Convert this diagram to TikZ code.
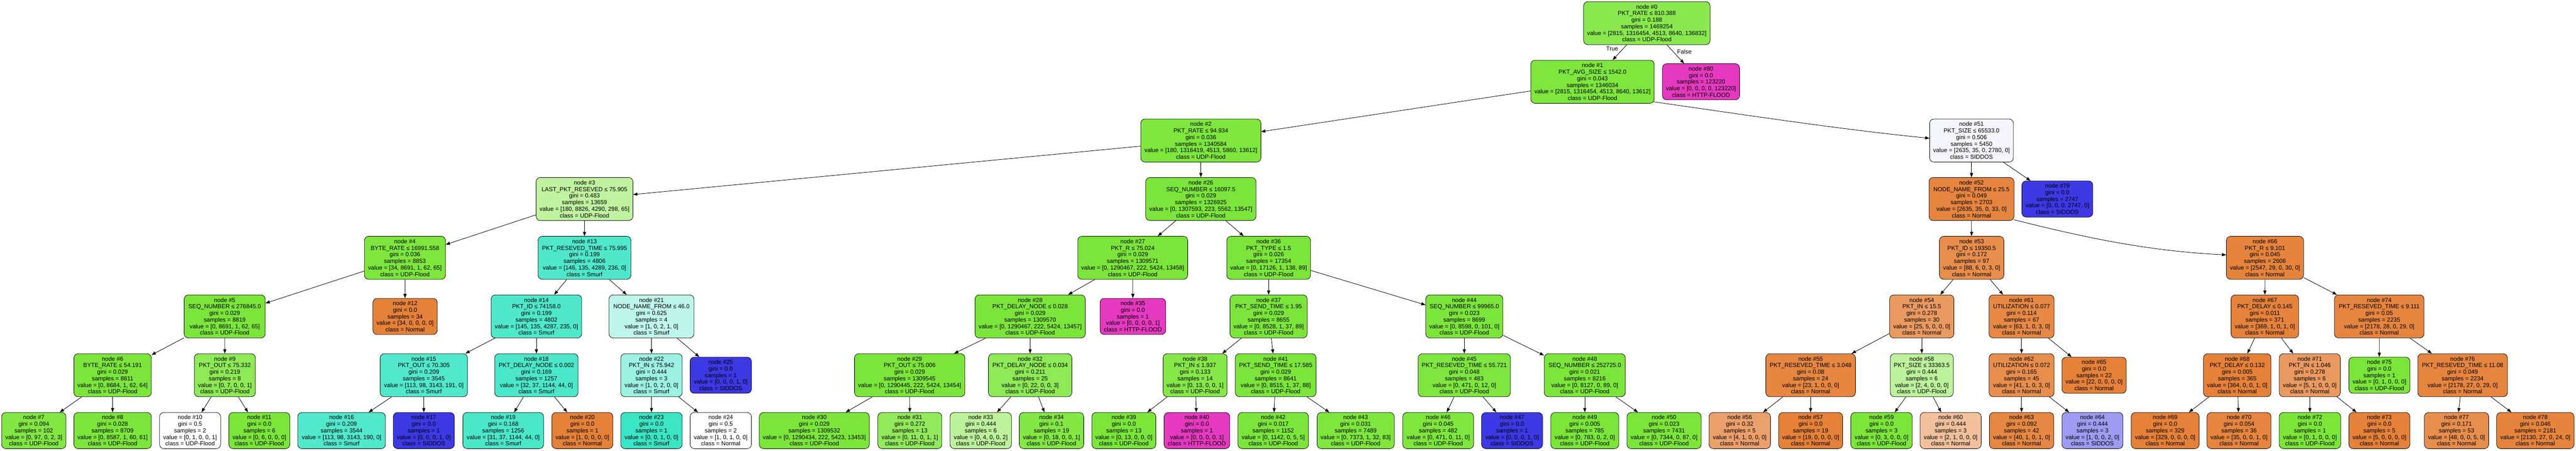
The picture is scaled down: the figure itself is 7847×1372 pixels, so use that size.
\documentclass[tikz,border=0pt]{standalone}
\usepackage{fontspec}
\usetikzlibrary{arrows.meta}
\newfontfamily\dtfam{Liberation Sans}
\newcommand\dtfont{\dtfam\fontsize{18}{20}\selectfont}
\definecolor{cN}{HTML}{E58139}
\definecolor{cU}{HTML}{7BE539}
\definecolor{cS}{HTML}{39E5C5}
\definecolor{cD}{HTML}{3C39E5}
\definecolor{cH}{HTML}{E539C0}
\tikzset{
  tb/.style={draw=black, line width=1.2pt, rounded corners=13pt, inner sep=0pt, align=center, font=\dtfont, minimum height=131pt},
  lf/.style={tb, minimum height=110pt},
  ed/.style={line width=1.3pt, draw=black, -{Triangle[length=13pt,width=9.5pt]}},
  lbl/.style={font=\dtfont, inner sep=0pt}
}
\begin{document}
\begin{tikzpicture}[x=1pt,y=1pt]
\useasboundingbox (0,0) rectangle (7847,-1372);
\fill[white] (0,0) rectangle (7847,-1372);
% rank 0
\node[tb, fill=cU!89!white, minimum width=385pt] (n0) at (5016.5,-70.5) {node \#0\\PKT\_RATE ≤ 810.388\\gini = 0.188\\samples = 1469254\\value = [2815, 1316454, 4513, 8640, 136832]\\class = UDP-Flood};
% rank 1
\node[tb, fill=cU!98!white, minimum width=376pt] (n1) at (4851,-249) {node \#1\\PKT\_AVG\_SIZE ≤ 1542.0\\gini = 0.043\\samples = 1346034\\value = [2815, 1316454, 4513, 8640, 13612]\\class = UDP-Flood};
\node[lf, fill=cH, minimum width=235pt] (n80) at (5181.5,-249) {node \#80\\gini = 0.0\\samples = 123220\\value = [0, 0, 0, 0, 123220]\\class = HTTP-FLOOD};
% rank 2
\node[tb, fill=cU!98!white, minimum width=366pt] (n2) at (3658,-428) {node \#2\\PKT\_RATE ≤ 94.934\\gini = 0.036\\samples = 1340584\\value = [180, 1316419, 4513, 5860, 13612]\\class = UDP-Flood};
\node[tb, fill=cD!5!white, minimum width=255pt] (n51) at (6005.5,-428) {node \#51\\PKT\_SIZE ≤ 65533.0\\gini = 0.506\\samples = 5450\\value = [2635, 35, 0, 2780, 0]\\class = SIDDOS};
% rank 3
\node[tb, fill=cU!48!white, minimum width=295pt] (n3) at (1780.5,-606) {node \#3\\LAST\_PKT\_RESEVED ≤ 75.905\\gini = 0.483\\samples = 13659\\value = [180, 8826, 4290, 298, 65]\\class = UDP-Flood};
\node[tb, fill=cU!99!white, minimum width=336pt] (n26) at (3658,-606) {node \#26\\SEQ\_NUMBER ≤ 16097.5\\gini = 0.029\\samples = 1326925\\value = [0, 1307593, 223, 5562, 13547]\\class = UDP-Flood};
\node[tb, fill=cN!97!white, minimum width=259pt] (n52) at (6005.5,-606) {node \#52\\NODE\_NAME\_FROM ≤ 25.5\\gini = 0.049\\samples = 2703\\value = [2635, 35, 0, 33, 0]\\class = Normal};
\node[lf, fill=cD, minimum width=216pt] (n79) at (6267,-606) {node \#79\\gini = 0.0\\samples = 2747\\value = [0, 0, 0, 2747, 0]\\class = SIDDOS};
% rank 4
\node[tb, fill=cU!98!white, minimum width=247pt] (n4) at (1233.5,-785) {node \#4\\BYTE\_RATE ≤ 16991.558\\gini = 0.036\\samples = 8853\\value = [34, 8691, 1, 62, 65]\\class = UDP-Flood};
\node[tb, fill=cS!89!white, minimum width=283pt] (n13) at (1780.5,-785) {node \#13\\PKT\_RESEVED\_TIME ≤ 75.995\\gini = 0.199\\samples = 4806\\value = [146, 135, 4289, 236, 0]\\class = Smurf};
\node[tb, fill=cU!99!white, minimum width=335pt] (n27) at (3450.5,-785) {node \#27\\PKT\_R ≤ 75.024\\gini = 0.029\\samples = 1309571\\value = [0, 1290467, 222, 5424, 13458]\\class = UDP-Flood};
\node[tb, fill=cU!99!white, minimum width=255pt] (n36) at (3864.5,-785) {node \#36\\PKT\_TYPE ≤ 1.5\\gini = 0.026\\samples = 17354\\value = [0, 17126, 1, 138, 89]\\class = UDP-Flood};
\node[tb, fill=cN!90!white, minimum width=196pt] (n53) at (6006,-785) {node \#53\\PKT\_ID ≤ 19350.5\\gini = 0.172\\samples = 97\\value = [88, 6, 0, 3, 0]\\class = Normal};
\node[tb, fill=cN!98!white, minimum width=235pt] (n66) at (6899.5,-785) {node \#66\\PKT\_R ≤ 9.101\\gini = 0.045\\samples = 2606\\value = [2547, 29, 0, 30, 0]\\class = Normal};
% rank 5
\node[tb, fill=cU!99!white, minimum width=247pt] (n5) at (684.5,-963.5) {node \#5\\SEQ\_NUMBER ≤ 276845.0\\gini = 0.029\\samples = 8819\\value = [0, 8691, 1, 62, 65]\\class = UDP-Flood};
\node[lf, fill=cN, minimum width=196pt] (n12) at (1234,-963.5) {node \#12\\gini = 0.0\\samples = 34\\value = [34, 0, 0, 0, 0]\\class = Normal};
\node[tb, fill=cS!89!white, minimum width=276pt] (n14) at (1634,-963.5) {node \#14\\PKT\_ID ≤ 74158.0\\gini = 0.199\\samples = 4802\\value = [145, 135, 4287, 235, 0]\\class = Smurf};
\node[tb, fill=cS!33!white, minimum width=259pt] (n21) at (1984.5,-963.5) {node \#21\\NODE\_NAME\_FROM ≤ 46.0\\gini = 0.625\\samples = 4\\value = [1, 0, 2, 1, 0]\\class = Smurf};
\node[tb, fill=cU!99!white, minimum width=336pt] (n28) at (3138,-963.5) {node \#28\\PKT\_DELAY\_NODE ≤ 0.028\\gini = 0.029\\samples = 1309570\\value = [0, 1290467, 222, 5424, 13457]\\class = UDP-Flood};
\node[lf, fill=cH, minimum width=200pt] (n35) at (3451,-963.5) {node \#35\\gini = 0.0\\samples = 1\\value = [0, 0, 0, 0, 1]\\class = HTTP-FLOOD};
\node[tb, fill=cU!99!white, minimum width=235pt] (n37) at (3864.5,-963.5) {node \#37\\PKT\_SEND\_TIME ≤ 1.95\\gini = 0.029\\samples = 8655\\value = [0, 8528, 1, 37, 89]\\class = UDP-Flood};
\node[tb, fill=cU!99!white, minimum width=235pt] (n44) at (4460.5,-963.5) {node \#44\\SEQ\_NUMBER ≤ 99965.0\\gini = 0.023\\samples = 8699\\value = [0, 8598, 0, 101, 0]\\class = UDP-Flood};
\node[tb, fill=cN!80!white, minimum width=196pt] (n54) at (5854,-963.5) {node \#54\\PKT\_IN ≤ 15.5\\gini = 0.278\\samples = 30\\value = [25, 5, 0, 0, 0]\\class = Normal};
\node[tb, fill=cN!94!white, minimum width=198pt] (n61) at (6158,-963.5) {node \#61\\UTILIZATION ≤ 0.077\\gini = 0.114\\samples = 67\\value = [63, 1, 0, 3, 0]\\class = Normal};
\node[tb, fill=cN!99!white, minimum width=206pt] (n67) at (6899,-963.5) {node \#67\\PKT\_DELAY ≤ 0.145\\gini = 0.011\\samples = 371\\value = [369, 1, 0, 1, 0]\\class = Normal};
\node[tb, fill=cN!97!white, minimum width=273pt] (n74) at (7247.5,-963.5) {node \#74\\PKT\_RESEVED\_TIME ≤ 9.111\\gini = 0.05\\samples = 2235\\value = [2178, 28, 0, 29, 0]\\class = Normal};
% rank 6
\node[tb, fill=cU!99!white, minimum width=236pt] (n6) at (343,-1142.5) {node \#6\\BYTE\_RATE ≤ 54.191\\gini = 0.029\\samples = 8811\\value = [0, 8684, 1, 62, 64]\\class = UDP-Flood};
\node[tb, fill=cU!86!white, minimum width=186pt] (n9) at (685,-1142.5) {node \#9\\PKT\_OUT ≤ 75.332\\gini = 0.219\\samples = 8\\value = [0, 7, 0, 0, 1]\\class = UDP-Flood};
\node[tb, fill=cS!88!white, minimum width=266pt] (n15) at (1291,-1142.5) {node \#15\\PKT\_OUT ≤ 70.305\\gini = 0.209\\samples = 3545\\value = [113, 98, 3143, 191, 0]\\class = Smurf};
\node[tb, fill=cS!91!white, minimum width=254pt] (n18) at (1634,-1142.5) {node \#18\\PKT\_DELAY\_NODE ≤ 0.002\\gini = 0.169\\samples = 1257\\value = [32, 37, 1144, 44, 0]\\class = Smurf};
\node[tb, fill=cS!50!white, minimum width=187pt] (n22) at (1984.5,-1142.5) {node \#22\\PKT\_IN ≤ 75.942\\gini = 0.444\\samples = 3\\value = [1, 0, 2, 0, 0]\\class = Smurf};
\node[lf, fill=cD, minimum width=187pt] (n25) at (2195.5,-1142.5) {node \#25\\gini = 0.0\\samples = 1\\value = [0, 0, 0, 1, 0]\\class = SIDDOS};
\node[tb, fill=cU!99!white, minimum width=336pt] (n29) at (2771,-1142.5) {node \#29\\PKT\_OUT ≤ 75.006\\gini = 0.029\\samples = 1309545\\value = [0, 1290445, 222, 5424, 13454]\\class = UDP-Flood};
\node[tb, fill=cU!86!white, minimum width=254pt] (n32) at (3138,-1142.5) {node \#32\\PKT\_DELAY\_NODE ≤ 0.034\\gini = 0.211\\samples = 25\\value = [0, 22, 0, 0, 3]\\class = UDP-Flood};
\node[tb, fill=cU!92!white, minimum width=195pt] (n38) at (3640.5,-1142.5) {node \#38\\PKT\_IN ≤ 1.937\\gini = 0.133\\samples = 14\\value = [0, 13, 0, 0, 1]\\class = UDP-Flood};
\node[tb, fill=cU!99!white, minimum width=246pt] (n41) at (3886,-1142.5) {node \#41\\PKT\_SEND\_TIME ≤ 17.585\\gini = 0.029\\samples = 8641\\value = [0, 8515, 1, 37, 88]\\class = UDP-Flood};
\node[tb, fill=cU!97!white, minimum width=281pt] (n45) at (4460.5,-1142.5) {node \#45\\PKT\_RESEVED\_TIME ≤ 55.721\\gini = 0.048\\samples = 483\\value = [0, 471, 0, 12, 0]\\class = UDP-Flood};
\node[tb, fill=cU!99!white, minimum width=247pt] (n48) at (4827.5,-1142.5) {node \#48\\SEQ\_NUMBER ≤ 252725.0\\gini = 0.021\\samples = 8216\\value = [0, 8127, 0, 89, 0]\\class = UDP-Flood};
\node[tb, fill=cN!96!white, minimum width=273pt] (n55) at (5515.5,-1142.5) {node \#55\\PKT\_RESEVED\_TIME ≤ 3.048\\gini = 0.08\\samples = 24\\value = [23, 1, 0, 0, 0]\\class = Normal};
\node[tb, fill=cU!50!white, minimum width=192pt] (n58) at (5854,-1142.5) {node \#58\\PKT\_SIZE ≤ 33363.5\\gini = 0.444\\samples = 6\\value = [2, 4, 0, 0, 0]\\class = UDP-Flood};
\node[tb, fill=cN!90!white, minimum width=198pt] (n62) at (6158,-1142.5) {node \#62\\UTILIZATION ≤ 0.072\\gini = 0.165\\samples = 45\\value = [41, 1, 0, 3, 0]\\class = Normal};
\node[lf, fill=cN, minimum width=196pt] (n65) at (6379,-1142.5) {node \#65\\gini = 0.0\\samples = 22\\value = [22, 0, 0, 0, 0]\\class = Normal};
\node[tb, fill=cN, minimum width=206pt] (n68) at (6815,-1142.5) {node \#68\\PKT\_DELAY ≤ 0.132\\gini = 0.005\\samples = 365\\value = [364, 0, 0, 1, 0]\\class = Normal};
\node[tb, fill=cN!80!white, minimum width=186pt] (n71) at (7036,-1142.5) {node \#71\\PKT\_IN ≤ 1.046\\gini = 0.278\\samples = 6\\value = [5, 1, 0, 0, 0]\\class = Normal};
\node[lf, fill=cU, minimum width=186pt] (n75) at (7248,-1142.5) {node \#75\\gini = 0.0\\samples = 1\\value = [0, 1, 0, 0, 0]\\class = UDP-Flood};
\node[tb, fill=cN!97!white, minimum width=273pt] (n76) at (7501.5,-1142.5) {node \#76\\PKT\_RESEVED\_TIME ≤ 11.08\\gini = 0.049\\samples = 2234\\value = [2178, 27, 0, 29, 0]\\class = Normal};
% rank 7
\node[lf, fill=cU!95!white, minimum width=196pt] (n7) at (103,-1311) {node \#7\\gini = 0.094\\samples = 102\\value = [0, 97, 0, 2, 3]\\class = UDP-Flood};
\node[lf, fill=cU!99!white, minimum width=236pt] (n8) at (343,-1311) {node \#8\\gini = 0.028\\samples = 8709\\value = [0, 8587, 1, 60, 61]\\class = UDP-Flood};
\node[lf, fill=white, minimum width=186pt] (n10) at (579,-1311) {node \#10\\gini = 0.5\\samples = 2\\value = [0, 1, 0, 0, 1]\\class = UDP-Flood};
\node[lf, fill=cU, minimum width=186pt] (n11) at (790,-1311) {node \#11\\gini = 0.0\\samples = 6\\value = [0, 6, 0, 0, 0]\\class = UDP-Flood};
\node[lf, fill=cS!88!white, minimum width=267pt] (n16) at (1040.5,-1311) {node \#16\\gini = 0.209\\samples = 3544\\value = [113, 98, 3143, 190, 0]\\class = Smurf};
\node[lf, fill=cD, minimum width=186pt] (n17) at (1291,-1311) {node \#17\\gini = 0.0\\samples = 1\\value = [0, 0, 0, 1, 0]\\class = SIDDOS};
\node[lf, fill=cS!91!white, minimum width=246pt] (n19) at (1533,-1311) {node \#19\\gini = 0.168\\samples = 1256\\value = [31, 37, 1144, 44, 0]\\class = Smurf};
\node[lf, fill=cN, minimum width=186pt] (n20) at (1774,-1311) {node \#20\\gini = 0.0\\samples = 1\\value = [1, 0, 0, 0, 0]\\class = Normal};
\node[lf, fill=cS, minimum width=187pt] (n23) at (1984.5,-1311) {node \#23\\gini = 0.0\\samples = 1\\value = [0, 0, 1, 0, 0]\\class = Smurf};
\node[lf, fill=white, minimum width=187pt] (n24) at (2195.5,-1311) {node \#24\\gini = 0.5\\samples = 2\\value = [1, 0, 1, 0, 0]\\class = Normal};
\node[lf, fill=cU!99!white, minimum width=335pt] (n30) at (2480.5,-1311) {node \#30\\gini = 0.029\\samples = 1309532\\value = [0, 1290434, 222, 5423, 13453]\\class = UDP-Flood};
\node[lf, fill=cU!83!white, minimum width=195pt] (n31) at (2771.5,-1311) {node \#31\\gini = 0.272\\samples = 13\\value = [0, 11, 0, 1, 1]\\class = UDP-Flood};
\node[lf, fill=cU!50!white, minimum width=187pt] (n33) at (2987.5,-1311) {node \#33\\gini = 0.444\\samples = 6\\value = [0, 4, 0, 0, 2]\\class = UDP-Flood};
\node[lf, fill=cU!94!white, minimum width=196pt] (n34) at (3203,-1311) {node \#34\\gini = 0.1\\samples = 19\\value = [0, 18, 0, 0, 1]\\class = UDP-Flood};
\node[lf, fill=cU, minimum width=195pt] (n39) at (3423.5,-1311) {node \#39\\gini = 0.0\\samples = 13\\value = [0, 13, 0, 0, 0]\\class = UDP-Flood};
\node[lf, fill=cH, minimum width=200pt] (n40) at (3646,-1311) {node \#40\\gini = 0.0\\samples = 1\\value = [0, 0, 0, 0, 1]\\class = HTTP-FLOOD};
\node[lf, fill=cU!99!white, minimum width=215pt] (n42) at (3878.5,-1311) {node \#42\\gini = 0.017\\samples = 1152\\value = [0, 1142, 0, 5, 5]\\class = UDP-Flood};
\node[lf, fill=cU!98!white, minimum width=235pt] (n43) at (4129.5,-1311) {node \#43\\gini = 0.031\\samples = 7489\\value = [0, 7373, 1, 32, 83]\\class = UDP-Flood};
\node[lf, fill=cU!98!white, minimum width=216pt] (n46) at (4381,-1311) {node \#46\\gini = 0.045\\samples = 482\\value = [0, 471, 0, 11, 0]\\class = UDP-Flood};
\node[lf, fill=cD, minimum width=186pt] (n47) at (4606,-1311) {node \#47\\gini = 0.0\\samples = 1\\value = [0, 0, 0, 1, 0]\\class = SIDDOS};
\node[lf, fill=cU, minimum width=207pt] (n49) at (4827.5,-1311) {node \#49\\gini = 0.005\\samples = 785\\value = [0, 783, 0, 2, 0]\\class = UDP-Flood};
\node[lf, fill=cU!99!white, minimum width=226pt] (n50) at (5069,-1311) {node \#50\\gini = 0.023\\samples = 7431\\value = [0, 7344, 0, 87, 0]\\class = UDP-Flood};
\node[lf, fill=cN!75!white, minimum width=187pt] (n56) at (5299.5,-1311) {node \#56\\gini = 0.32\\samples = 5\\value = [4, 1, 0, 0, 0]\\class = Normal};
\node[lf, fill=cN, minimum width=195pt] (n57) at (5515.5,-1311) {node \#57\\gini = 0.0\\samples = 19\\value = [19, 0, 0, 0, 0]\\class = Normal};
\node[lf, fill=cU, minimum width=187pt] (n59) at (5731.5,-1311) {node \#59\\gini = 0.0\\samples = 3\\value = [0, 3, 0, 0, 0]\\class = UDP-Flood};
\node[lf, fill=cN!50!white, minimum width=186pt] (n60) at (5942,-1311) {node \#60\\gini = 0.444\\samples = 3\\value = [2, 1, 0, 0, 0]\\class = Normal};
\node[lf, fill=cN!95!white, minimum width=196pt] (n63) at (6158,-1311) {node \#63\\gini = 0.092\\samples = 42\\value = [40, 1, 0, 1, 0]\\class = Normal};
\node[lf, fill=cD!50!white, minimum width=186pt] (n64) at (6374,-1311) {node \#64\\gini = 0.444\\samples = 3\\value = [1, 0, 0, 2, 0]\\class = SIDDOS};
\node[lf, fill=cN, minimum width=207pt] (n69) at (6595.5,-1311) {node \#69\\gini = 0.0\\samples = 329\\value = [329, 0, 0, 0, 0]\\class = Normal};
\node[lf, fill=cN!97!white, minimum width=195pt] (n70) at (6820.5,-1311) {node \#70\\gini = 0.054\\samples = 36\\value = [35, 0, 0, 1, 0]\\class = Normal};
\node[lf, fill=cU, minimum width=187pt] (n72) at (7036.5,-1311) {node \#72\\gini = 0.0\\samples = 1\\value = [0, 1, 0, 0, 0]\\class = UDP-Flood};
\node[lf, fill=cN, minimum width=186pt] (n73) at (7248,-1311) {node \#73\\gini = 0.0\\samples = 5\\value = [5, 0, 0, 0, 0]\\class = Normal};
\node[lf, fill=cN!90!white, minimum width=196pt] (n77) at (7483,-1311) {node \#77\\gini = 0.171\\samples = 53\\value = [48, 0, 0, 5, 0]\\class = Normal};
\node[lf, fill=cN!98!white, minimum width=236pt] (n78) at (7723,-1311) {node \#78\\gini = 0.046\\samples = 2181\\value = [2130, 27, 0, 24, 0]\\class = Normal};
% labels
\node[lbl] (tTrue) at (4911,-148) {True};
\node[lbl] (tFalse) at (5131,-158) {False};
% edges
\draw[ed] (n0) -- (n1);
\draw[ed] (n0) -- (n80);
\draw[ed] (n1) -- (n2);
\draw[ed] ([xshift=-2pt,yshift=5pt]n1.south east) .. controls (5318,-350) and (5598,-393) .. ([yshift=7pt]n51.west);
\draw[ed] (n2) -- (n3);
\draw[ed] (n2) -- (n26);
\draw[ed] (n3) -- (n4);
\draw[ed] (n3) -- (n13);
\draw[ed] (n4) -- (n5);
\draw[ed] (n4) -- (n12);
\draw[ed] (n5) -- (n6);
\draw[ed] (n5) -- (n9);
\draw[ed] (n6) -- (n7);
\draw[ed] (n6) -- (n8);
\draw[ed] (n9) -- (n10);
\draw[ed] (n9) -- (n11);
\draw[ed] (n13) -- (n14);
\draw[ed] (n13) -- (n21);
\draw[ed] (n14) -- (n15);
\draw[ed] (n14) -- (n18);
\draw[ed] (n15) -- (n16);
\draw[ed] (n15) -- (n17);
\draw[ed] (n18) -- (n19);
\draw[ed] (n18) -- (n20);
\draw[ed] (n21) -- (n22);
\draw[ed] (n21) -- (n25);
\draw[ed] (n22) -- (n23);
\draw[ed] (n22) -- (n24);
\draw[ed] (n26) -- (n27);
\draw[ed] (n26) -- (n36);
\draw[ed] (n27) -- (n28);
\draw[ed] (n27) -- (n35);
\draw[ed] (n28) -- (n29);
\draw[ed] (n28) -- (n32);
\draw[ed] (n29) -- (n30);
\draw[ed] (n29) -- (n31);
\draw[ed] (n32) -- (n33);
\draw[ed] (n32) -- (n34);
\draw[ed] (n36) -- (n37);
\draw[ed] (n36) -- (n44);
\draw[ed] (n37) -- (n38);
\draw[ed] (n37) -- (n41);
\draw[ed] (n38) -- (n39);
\draw[ed] (n38) -- (n40);
\draw[ed] (n41) -- (n42);
\draw[ed] (n41) -- (n43);
\draw[ed] (n44) -- (n45);
\draw[ed] (n44) -- (n48);
\draw[ed] (n45) -- (n46);
\draw[ed] (n45) -- (n47);
\draw[ed] (n48) -- (n49);
\draw[ed] (n48) -- (n50);
\draw[ed] (n51) -- (n52);
\draw[ed] (n51) -- (n79);
\draw[ed] (n52) -- (n53);
\draw[ed] ([xshift=-1pt,yshift=3pt]n52.south east) .. controls (6335,-719) and (6532,-764) .. ([yshift=9pt]n66.west);
\draw[ed] (n53) -- (n54);
\draw[ed] (n53) -- (n61);
\draw[ed] (n54) -- (n55);
\draw[ed] (n54) -- (n58);
\draw[ed] (n55) -- (n56);
\draw[ed] (n55) -- (n57);
\draw[ed] (n58) -- (n59);
\draw[ed] (n58) -- (n60);
\draw[ed] (n61) -- (n62);
\draw[ed] (n61) -- (n65);
\draw[ed] (n62) -- (n63);
\draw[ed] (n62) -- (n64);
\draw[ed] (n66) -- (n67);
\draw[ed] (n66) -- (n74);
\draw[ed] (n67) -- (n68);
\draw[ed] (n67) -- (n71);
\draw[ed] (n68) -- (n69);
\draw[ed] (n68) -- (n70);
\draw[ed] (n71) -- (n72);
\draw[ed] (n71) -- (n73);
\draw[ed] (n74) -- (n75);
\draw[ed] (n74) -- (n76);
\draw[ed] (n76) -- (n77);
\draw[ed] (n76) -- (n78);
\end{tikzpicture}
\end{document}
